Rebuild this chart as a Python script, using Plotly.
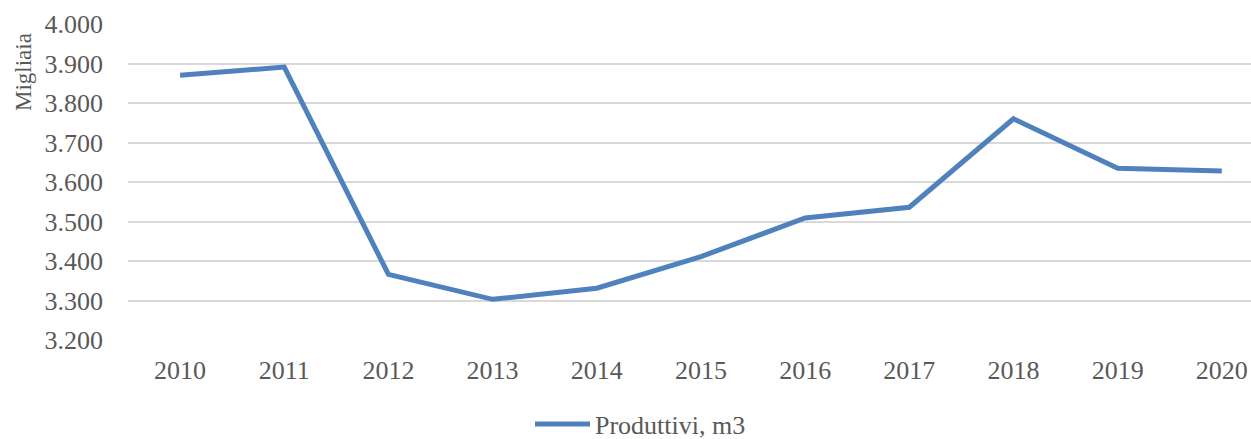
import plotly.graph_objects as go

years = ["2010", "2011", "2012", "2013", "2014", "2015", "2016", "2017", "2018", "2019", "2020"]
produttivi = [3870, 3891, 3366, 3303, 3331, 3411, 3509, 3536, 3760, 3635, 3628]
y_ticks = [3200, 3300, 3400, 3500, 3600, 3700, 3800, 3900, 4000]
series_name = "Produttivi, m3"
y_title = "Migliaia"

W, H = 1251, 439
L, R, T = 128, 0, 24
B = H - 340
font = "Liberation Serif, Times New Roman, serif"
grey = "#595959"

fig = go.Figure()
fig.add_trace(go.Scatter(
    x=years, y=produttivi, mode="lines", name=series_name,
    line=dict(color="#4F81BD", width=5),
))

fig.update_layout(
    width=W, height=H,
    margin=dict(l=L, r=R, t=T, b=B, pad=0),
    paper_bgcolor="white", plot_bgcolor="white",
    separators=",.",
    font=dict(family=font, size=26, color=grey),
    showlegend=True,
    legend=dict(
        orientation="h", xref="container", yref="container",
        x=(535 - 5) / W, xanchor="left", y=1 - 424 / H, yanchor="middle",
        font=dict(family=font, size=26, color=grey),
        bgcolor="rgba(0,0,0,0)", itemwidth=55,
    ),
    xaxis=dict(
        type="category", range=[-0.5, 10.28],
        showgrid=False, zeroline=False, showline=False,
        ticks="", tickfont=dict(family=font, size=26, color=grey),
        ticklabelstandoff=12,
    ),
    yaxis=dict(
        range=[3200, 4000], tickvals=y_ticks, tickformat=",.0f",
        showgrid=True, gridcolor="#D9D9D9", gridwidth=1.5,
        zeroline=False, showline=False, ticks="",
        tickfont=dict(family=font, size=26, color=grey),
        ticklabelstandoff=24,
    ),
    annotations=[dict(
        text=y_title, textangle=-90, xref="paper", yref="paper",
        x=(23 - L) / (W - L - R), y=1 - (72 - T) / (H - T - B),
        xanchor="center", yanchor="middle", showarrow=False,
        font=dict(family=font, size=23, color=grey),
    )],
)

fig.write_html(
    "out.html",
    config={"displayModeBar": False},
    post_script="document.body.style.margin='0';"
                "document.documentElement.style.overflow='hidden';"
                "document.body.style.overflow='hidden';",
)
